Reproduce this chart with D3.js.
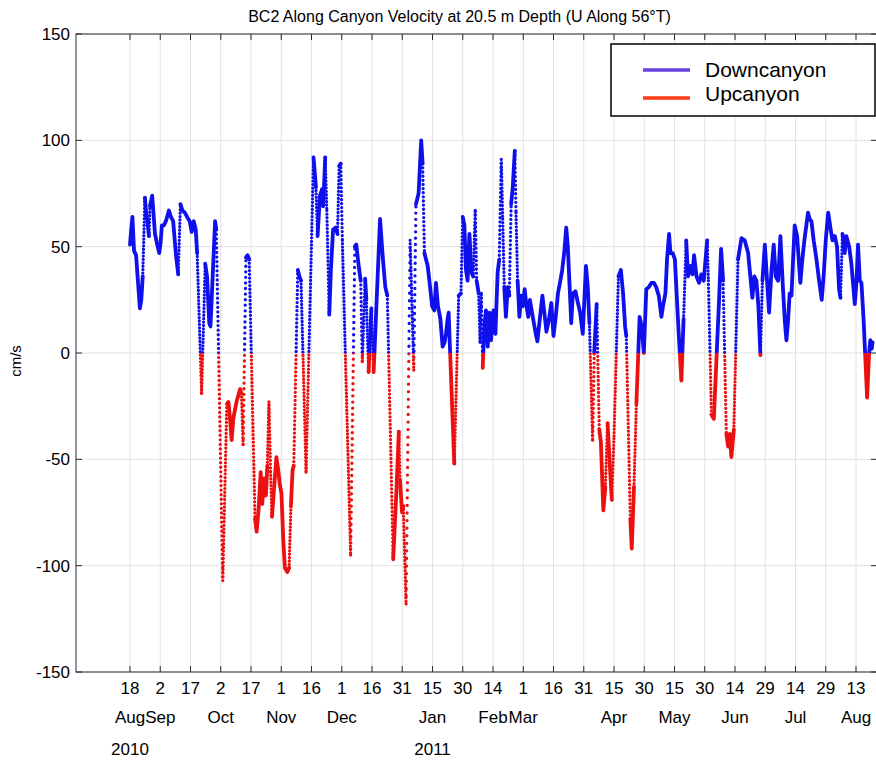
<!DOCTYPE html>
<html>
<head>
<meta charset="utf-8">
<script src="https://cdn.jsdelivr.net/npm/d3@7"></script>
<style>
  body { margin: 0; background: #fff; }
  svg { display: block; }
  text { font-family: "Liberation Sans", Arial, Helvetica, sans-serif; fill: #000; }
</style>
</head>
<body>
<svg id="chart" width="876" height="761"></svg>
<script>
// ---- data -------------------------------------------------------------
// Record start; every sample below is given as days since this date.
const recordStart = "2010-08-18T00:00:00Z";

const dayOfRecord = [
  0.0, 0.6, 1.2, 2.0, 3.0, 4.9, 5.6, 6.3, 7.4, 8.0, 8.6, 9.4, 9.9, 11.0, 12.4, 13.5, 14.5, 15.2, 15.8, 16.8,
  17.8, 19.3, 20.3, 21.4, 22.7, 23.9, 25.0, 26.0, 27.2, 28.3, 29.6, 30.6, 31.6, 32.6, 33.3, 35.5, 37.3, 38.2, 39.3, 39.9,
  42.2, 42.8, 46.0, 48.0, 48.8, 49.6, 50.4, 51.2, 52.8, 53.7, 54.6, 55.3, 56.1, 57.5, 58.3, 59.1, 62.0, 62.8, 63.8, 64.8,
  65.6, 66.4, 67.4, 68.1, 68.9, 69.7, 70.4, 71.4, 72.6, 73.5, 74.3, 75.1, 76.0, 76.8, 78.0, 78.9, 79.8, 80.6, 81.2, 83.2,
  84.0, 84.8, 87.3, 91.0, 92.2, 93.0, 94.2, 95.2, 95.8, 96.8, 97.6, 98.8, 99.6, 100.7, 102.0, 102.9, 103.7, 104.5, 105.3, 109.4,
  111.5, 112.2, 113.4, 114.4, 115.2, 116.6, 117.2, 118.3, 119.7, 120.8, 124.0, 124.8, 125.6, 126.6, 127.6, 130.5, 132.2, 133.3, 133.9, 134.9,
  135.5, 136.9, 138.9, 140.5, 140.7, 141.8, 143.1, 144.4, 145.1, 146.0, 146.8, 147.6, 148.8, 149.8, 150.9, 151.7, 152.7, 153.9, 155.0, 156.0,
  156.7, 157.5, 158.0, 160.8, 163.0, 164.1, 165.0, 165.8, 166.6, 167.4, 168.3, 169.3, 170.2, 171.2, 171.9, 172.9, 173.6, 174.2, 174.9, 175.7,
  176.5, 177.4, 178.2, 179.0, 180.2, 181.2, 182.3, 183.1, 184.1, 184.8, 185.6, 186.4, 187.3, 188.1, 189.0, 189.8, 190.8, 191.4, 192.2, 193.1,
  194.0, 194.7, 195.7, 196.6, 197.5, 198.3, 199.9, 201.2, 202.0, 203.2, 204.5, 205.7, 206.5, 207.8, 208.9, 210.0, 211.0, 212.2, 213.4, 214.3,
  215.3, 216.3, 217.1, 218.8, 219.6, 220.9, 222.0, 223.2, 224.5, 226.1, 227.0, 227.8, 229.4, 230.2, 231.4, 232.7, 233.5, 234.7, 235.7, 236.8,
  237.6, 238.9, 240.0, 242.2, 243.4, 244.5, 245.5, 246.1, 248.1, 248.8, 249.9, 251.1, 252.7, 253.7, 254.8, 256.0, 257.3, 258.6, 259.8, 260.9,
  262.2, 263.5, 264.3, 265.5, 266.3, 267.3, 268.0, 269.1, 270.2, 271.7, 273.4, 274.5, 275.8, 276.7, 277.9, 278.9, 279.7, 280.9, 282.2, 283.3,
  284.5, 286.2, 286.8, 288.3, 289.5, 292.1, 293.1, 294.1, 295.7, 296.6, 297.4, 298.2, 299.4, 301.5, 303.2, 304.8, 306.5, 307.6, 308.6, 309.6,
  310.6, 311.6, 312.6, 313.6, 314.8, 315.9, 316.9, 318.1, 319.2, 320.2, 321.4, 322.5, 323.8, 324.7, 325.5, 326.3, 327.1, 328.0, 328.8, 329.6,
  330.8, 332.4, 333.4, 334.4, 336.2, 337.0, 337.9, 339.0, 340.4, 341.7, 343.0, 344.0, 345.0, 346.2, 347.3, 348.3, 349.5, 350.6, 351.6, 352.3,
  353.3, 354.4, 355.2, 356.6, 357.7, 359.4, 360.2, 361.0, 361.9, 362.7, 363.8, 365.5, 366.5, 367.1, 367.8, 368.2
];

// Along-canyon velocity (cm/s); positive = downcanyon, negative = upcanyon
const velocity = [
  51, 58, 64, 48, 46, 21, 25, 36, 73, 66, 62, 55, 69, 74, 56, 51, 47, 52, 60, 60,
  62, 67, 64, 62, 47, 37, 70, 67, 66, 64, 62, 57, 62, 58, 47, -19, 42, 36, 14, 12.5,
  62, 58, -107, -24, -23, -31, -41, -31, -23, -20, -17, -19, -43, 45, 46, 44, -78, -84, -73, -56,
  -71, -59, -67, -53, -23, -56, -77, -64, -49, -55, -62, -66, -88, -101, -103, -101, -72, -55, -53, 39,
  36, 34, -56, 92, 78, 55, 74, 77, 69, 92, 67, 18, 39, 58, 59, 56, 88, 89, 53, -95,
  50, 51, 41, 34, -4, 35, 25, -9, 21, -9, 63, 52, 42, 31, 27, -97, -63, -37, -60, -75,
  -72, -118, 53, 0, -8, 70, 75, 100, 89, 47, 44, 41, 31, 22, 20, 33, 22, 16, 3, 5,
  9, 16, 19, -52, 27, 28, 64, 60, 39, 34, 56, 38, 36, 67, 34, 28, 5, 28, -7, 12.5,
  20, 3, 19, 6, 20, 9, 38, 44, 91, 63, 31, 17, 31, 27, 70, 78, 95, 66, 34, 17,
  27, 22, 30, 22, 17, 25, 16, 9, 5.5, 16, 27, 17, 10, 16, 23.5, 8, 16, 28, 34, 39,
  47, 59, 50, 14, 28, 29, 24, 19, 9, 41, 31, 14, -41, 0, 23, -36, -42, -74, -63, -33,
  -47, -69, -39, 36, 39, 28, 12.5, 8, -78, -92, -63, -24, 17, 12.5, 0, 30, 31, 33, 33, 31,
  27, 17, 22, 28, 44, 56, 47, 47, 44, 16, -13, 16, 53, 36, 41, 37, 46, 36, 33, 37,
  34, 53, 34, -29, -31, 25, 49, 34, -38, -44, -38, -49, -36, 44, 54, 53, 47, 36, 26, 36,
  34, 22, -1, 34, 51, 34, 19, 39, 51, 36, 34, 55, 30, 15, 6, 15, 28, 27, 44, 60,
  55, 33, 44, 53, 66, 63, 62, 53, 44, 34, 25, 37, 53, 66, 59, 53, 55, 50, 30, 26,
  56, 47, 55, 50, 42, 23, 33, 51, 34, 33, 15, -21, 0, 6, 2, 5
];

// Tick dates along the time axis (every 15 days)
const tickDates = [
  "2010-08-18", "2010-09-02", "2010-09-17", "2010-10-02", "2010-10-17", "2010-11-01", "2010-11-16",
  "2010-12-01", "2010-12-16", "2010-12-31", "2011-01-15", "2011-01-30", "2011-02-14", "2011-03-01",
  "2011-03-16", "2011-03-31", "2011-04-15", "2011-04-30", "2011-05-15", "2011-05-30", "2011-06-14",
  "2011-06-29", "2011-07-14", "2011-07-29", "2011-08-13"
];
const yTicks = [-150, -100, -50, 0, 50, 100, 150];
const yDomain = [-150, 150];
const xDomain = ["2010-07-22T05:20:00Z", "2011-08-23T09:50:00Z"];
const seriesNames = ["Downcanyon", "Upcanyon"];
const titleText = "BC2 Along Canyon Velocity at 20.5 m Depth (U Along 56\u00B0T)";
const yLabelText = "cm/s";

// ---- layout -------------------------------------------------------------
const plot = { left: 76, right: 877, top: 34, bottom: 672 };
const colors = { down: "#1010ec", up: "#ec1010", legendDown: "#6a3fe0", legendUp: "#ff3a16" };

const svg = d3.select("#chart");
const x = d3.scaleUtc().domain(xDomain.map(s => new Date(s))).range([plot.left, plot.right]);
const y = d3.scaleLinear().domain(yDomain).range([plot.bottom, plot.top]);

const t0 = new Date(recordStart).getTime();
const pts = dayOfRecord.map((d, i) => ({ day: d, t: new Date(t0 + d * 864e5), v: velocity[i] }));
const ticks = tickDates.map(s => new Date(s + "T00:00:00Z"));

// grid
const grid = svg.append("g");
grid.selectAll("line.gx").data(ticks).join("line")
  .attr("x1", d => x(d)).attr("x2", d => x(d))
  .attr("y1", plot.top).attr("y2", plot.bottom)
  .attr("stroke", "#e2e2e2").attr("stroke-width", 1);
grid.selectAll("line.gy").data(yTicks).join("line")
  .attr("x1", plot.left).attr("x2", plot.right)
  .attr("y1", d => y(d)).attr("y2", d => y(d))
  .attr("stroke", "#e2e2e2").attr("stroke-width", 1);

// clip regions: above the zero line is downcanyon, below is upcanyon
const defs = svg.append("defs");
defs.append("clipPath").attr("id", "clipDown").append("rect")
  .attr("x", plot.left).attr("y", plot.top)
  .attr("width", plot.right - plot.left).attr("height", y(0) - plot.top);
defs.append("clipPath").attr("id", "clipUp").append("rect")
  .attr("x", plot.left).attr("y", y(0))
  .attr("width", plot.right - plot.left).attr("height", plot.bottom - y(0));

const line = d3.line().x(d => x(d.t)).y(d => y(d.v));

// Hourly markers: steep stretches show separate dots, gentle ones merge into a band.
function drawTrace(color, clipId) {
  const layer = svg.append("g").attr("clip-path", `url(#${clipId})`)
    .attr("fill", "none").attr("stroke", color).attr("stroke-linecap", "round").attr("stroke-linejoin", "round");
  let run = [pts[0]];
  const flush = () => {
    if (run.length > 1) layer.append("path").datum(run).attr("d", line).attr("stroke-width", 3.8);
  };
  for (let i = 1; i < pts.length; i++) {
    const a = pts[i - 1], b = pts[i];
    const len = Math.hypot(x(b.t) - x(a.t), y(b.v) - y(a.v));
    const gap = len / ((b.day - a.day) * 24);
    if (gap < 2.4) {
      run.push(b);
    } else {
      flush();
      layer.append("path").datum([a, b]).attr("d", line)
        .attr("stroke-width", 3.3).attr("stroke-dasharray", `0 ${Math.max(gap, 3.4).toFixed(2)}`);
      run = [b];
    }
  }
  flush();
}
drawTrace(colors.down, "clipDown");
drawTrace(colors.up, "clipUp");

// axes box and inward ticks
const axisColor = "#2a2a2a";
const tl = 6;
svg.append("rect").attr("x", plot.left).attr("y", plot.top)
  .attr("width", plot.right - plot.left).attr("height", plot.bottom - plot.top)
  .attr("fill", "none").attr("stroke", axisColor).attr("stroke-width", 1);
const tk = svg.append("g").attr("stroke", axisColor).attr("stroke-width", 1);
ticks.forEach(d => {
  tk.append("line").attr("x1", x(d)).attr("x2", x(d)).attr("y1", plot.bottom).attr("y2", plot.bottom - tl);
  tk.append("line").attr("x1", x(d)).attr("x2", x(d)).attr("y1", plot.top).attr("y2", plot.top + tl);
});
yTicks.forEach(v => {
  tk.append("line").attr("x1", plot.left).attr("x2", plot.left + tl).attr("y1", y(v)).attr("y2", y(v));
  tk.append("line").attr("x1", plot.right).attr("x2", plot.right - tl).attr("y1", y(v)).attr("y2", y(v));
});

// y tick labels
svg.append("g").selectAll("text").data(yTicks).join("text")
  .attr("x", plot.left - 6).attr("y", d => y(d)).attr("dy", "0.36em")
  .attr("text-anchor", "end").attr("font-size", 17).text(d => d);

// x tick labels: day, month (first tick of a month), year (first tick of a year)
const fmtDay = d3.utcFormat("%-d"), fmtMon = d3.utcFormat("%b"), fmtYear = d3.utcFormat("%Y");
const xl = svg.append("g").attr("text-anchor", "middle").attr("font-size", 17);
xl.selectAll("text.day").data(ticks).join("text")
  .attr("x", d => x(d)).attr("y", 694).text(d => fmtDay(d));
const monthTicks = ticks.filter((d, i) => i === 0 || fmtMon(d) !== fmtMon(ticks[i - 1]));
xl.selectAll("text.mon").data(monthTicks).join("text")
  .attr("x", d => x(d)).attr("y", 723).text(d => fmtMon(d));
const yearTicks = ticks.filter((d, i) => i === 0 || fmtYear(d) !== fmtYear(ticks[i - 1]));
xl.selectAll("text.yr").data(yearTicks).join("text")
  .attr("x", d => x(d)).attr("y", 755).text(d => fmtYear(d));

// title and y label
svg.append("text").attr("x", (plot.left + plot.right) / 2 - 17).attr("y", 22)
  .attr("text-anchor", "middle").attr("font-size", 16).text(titleText);
svg.append("text").attr("transform", `translate(21,${y(0) + 8}) rotate(-90)`)
  .attr("text-anchor", "middle").attr("font-size", 15).text(yLabelText);

// legend
const lg = svg.append("g");
lg.append("rect").attr("x", 611).attr("y", 44).attr("width", 264).attr("height", 72)
  .attr("fill", "#fff").attr("stroke", "#000").attr("stroke-width", 1.5);
const legendRows = [
  { name: seriesNames[0], color: colors.legendDown, ly: 70, ty: 77 },
  { name: seriesNames[1], color: colors.legendUp, ly: 98, ty: 101 }
];
legendRows.forEach(r => {
  lg.append("line").attr("x1", 643).attr("x2", 690).attr("y1", r.ly).attr("y2", r.ly)
    .attr("stroke", r.color).attr("stroke-width", 3.5);
  lg.append("text").attr("x", 705).attr("y", r.ty).attr("font-size", 21).text(r.name);
});
</script>
</body>
</html>
